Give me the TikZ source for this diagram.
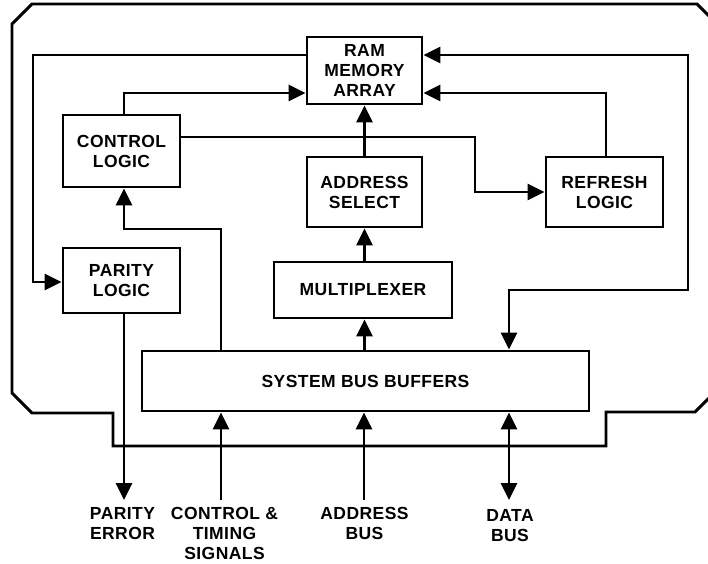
\documentclass[tikz,border=0pt]{standalone}
\usepackage{fontspec}
\setmainfont{Liberation Sans}[LetterSpace=2.5]
\usetikzlibrary{arrows.meta}
\begin{document}
\begin{tikzpicture}[x=1pt,y=-1pt,line width=2.9pt,line join=miter,
  txt/.style={font=\bfseries\fontsize{17.5}{20}\selectfont},
  box/.style={draw,txt,inner sep=0pt,align=center},
  lbl/.style={txt,inner sep=0pt,align=center,anchor=north},
  arr/.style={-{Triangle[length=17pt,width=16pt]}},
  dbl/.style={{Triangle[length=17pt,width=16pt]}-{Triangle[length=17pt,width=16pt]}}]
\useasboundingbox (0,0) rectangle (708,563);
\clip (0,0) rectangle (708,563);
% board outline
\draw (32,4) -- (697,4) -- (722,29) -- (722,385) -- (695,412) -- (606,412) -- (606,446)
  -- (113,446) -- (113,413) -- (32,413) -- (12,393) -- (12,24) -- cycle;
% blocks
\node[box,minimum width=115pt,minimum height=67pt] (ram) at (364.5,70.5) {RAM\\MEMORY\\ARRAY};
\node[box,minimum width=117pt,minimum height=72pt] (ctrl) at (121.5,151) {CONTROL\\LOGIC};
\node[box,minimum width=115pt,minimum height=70pt] (addr) at (364.5,192) {ADDRESS\\SELECT};
\node[box,minimum width=117pt,minimum height=70pt] (refresh) at (604.5,192) {REFRESH\\LOGIC};
\node[box,minimum width=117pt,minimum height=65pt] (parity) at (121.5,280.5) {PARITY\\LOGIC};
\node[box,minimum width=178pt,minimum height=56pt] (mux) at (363,290) {MULTIPLEXER};
\node[box,minimum width=447pt,minimum height=60pt] (sbb) at (365.5,381) {SYSTEM BUS BUFFERS};
% free ends
\coordinate (perr) at (124,500);
\coordinate (ctl) at (221,500);
\coordinate (abus) at (364,500);
\coordinate (dbus) at (509,500);
% connectors
\draw[arr] (ram.west |- 0,55) -- (33,55) -- (33,282) -- (parity.west |- 0,282);
\draw[arr] (ctrl.north -| 124,0) -- (124,93) -- (ram.west |- 0,93);
\draw[arr] (ctrl.east |- 0,137) -- (475,137) -- (475,192) -- (refresh.west);
\draw[arr] (refresh.north -| 606,0) -- (606,93) -- (ram.east |- 0,93);
\draw[dbl] (ram.east |- 0,55) -- (688,55) -- (688,290) -- (509,290) -- (sbb.north -| dbus);
\draw[arr] (addr.north) -- (ram.south);
\draw[arr] (addr.south |- mux.north) -- (addr.south);
\draw[arr] (sbb.north -| addr.south) -- (mux.south -| addr.south);
\draw[arr] (sbb.north -| ctl) -- (221,229) -- (124,229) -- (ctrl.south -| 124,0);
\draw[arr] (parity.south -| perr) -- (perr);
\draw[arr] (ctl) -- (sbb.south -| ctl);
\draw[arr] (abus) -- (sbb.south -| abus);
\draw[dbl] (sbb.south -| dbus) -- (dbus);
% labels
\node[lbl] (lperr) at (122.5,506) {PARITY\\ERROR};
\node[lbl] (lctl) at (224.5,506) {CONTROL \&\\TIMING\\SIGNALS};
\node[lbl] (labus) at (364.5,506) {ADDRESS\\BUS};
\node[lbl] (ldbus) at (510,508) {DATA\\BUS};
\end{tikzpicture}
\end{document}
